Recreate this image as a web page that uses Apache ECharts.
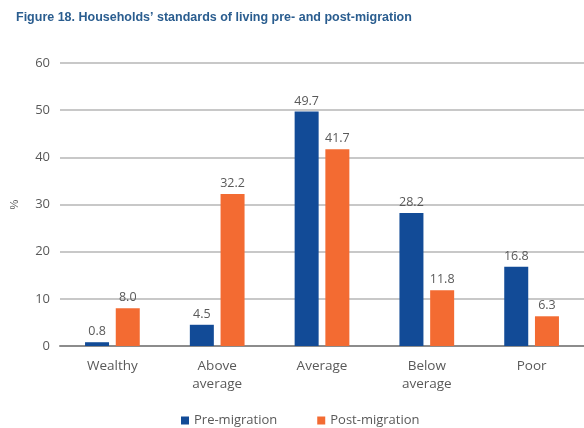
<!DOCTYPE html>
<html>
<head>
<meta charset="utf-8">
<script src="https://cdn.jsdelivr.net/npm/echarts@6/dist/echarts.min.js"></script>
<style>html,body{margin:0;padding:0;background:#fff;}#c{width:584px;height:428px;}</style>
</head>
<body>
<div id="c"></div>
<script>
const categories = ['Wealthy', 'Above\naverage', 'Average', 'Below\naverage', 'Poor'];
const preMigration = [0.8, 4.5, 49.7, 28.2, 16.8];
const postMigration = [8.0, 32.2, 41.7, 11.8, 6.3];
const seriesNames = ['Pre-migration', 'Post-migration'];
const titleText = 'Figure 18. Households\u2019 standards of living pre- and post-migration';

const chart = echarts.init(document.getElementById('c'));
const labelStyle = {show: true, position: 'top', distance: 4, color: '#595959', fontSize: 12.5, fontFamily: 'Open Sans', formatter: p => p.value.toFixed(1)};
chart.setOption({
  animation: false,
  title: {text: titleText, left: 11, top: 6, textStyle: {color: '#2a5d8f', fontSize: 12.5, fontWeight: 'bold', fontFamily: 'Liberation Sans'}},
  legend: {top: 409, left: 176, itemWidth: 8, itemHeight: 8, itemGap: 40, icon: 'rect',
    textStyle: {color: '#595959', fontSize: 13, fontFamily: 'Open Sans'}, data: seriesNames},
  grid: {left: 60, right: -11, top: 63, bottom: 82},
  xAxis: {type: 'category', data: categories,
    axisLine: {lineStyle: {color: '#8c8c8c', width: 2}}, axisTick: {show: false},
    axisLabel: {color: '#595959', fontSize: 13.5, fontFamily: 'Open Sans', margin: 11, lineHeight: 18}},
  yAxis: {type: 'value', min: 0, max: 60, interval: 10, name: '%', nameLocation: 'middle', nameGap: 40,
    nameTextStyle: {color: '#595959', fontSize: 11},
    axisLabel: {color: '#595959', fontSize: 13, fontFamily: 'Open Sans', margin: 10},
    axisLine: {show: false}, axisTick: {show: false},
    splitLine: {lineStyle: {color: '#c8c8c8', width: 2}}},
  series: [
    {name: seriesNames[0], type: 'bar', data: preMigration, barWidth: 24, barGap: '28%', itemStyle: {color: '#124b97'}, label: labelStyle},
    {name: seriesNames[1], type: 'bar', data: postMigration, barWidth: 24, itemStyle: {color: '#f36b32'}, label: labelStyle}
  ]
});
</script>
</body>
</html>
